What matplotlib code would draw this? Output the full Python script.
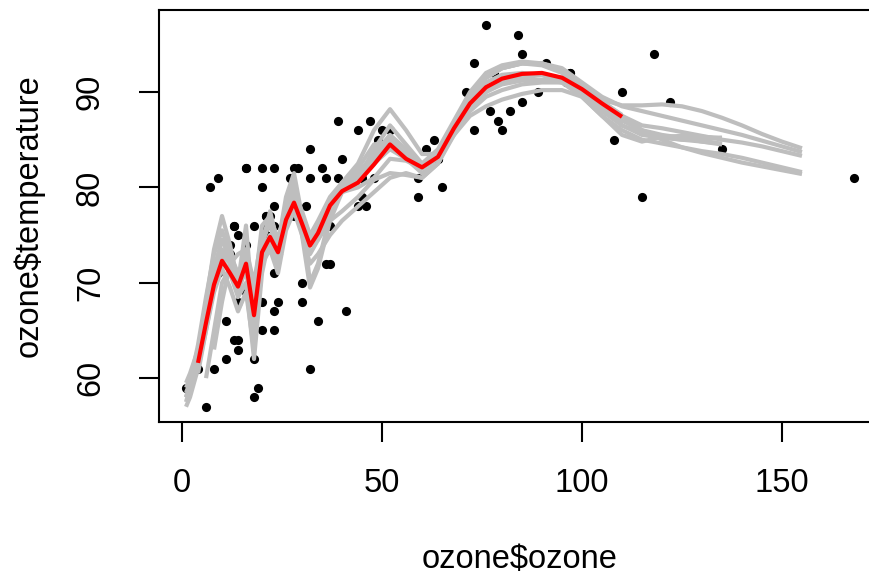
import numpy as np
import matplotlib
matplotlib.use("Agg")
from matplotlib import pyplot as plt

nan = np.nan

# observed data (ozone vs temperature)
ozone = [41, 36, 12, 18, 23, 19, 8, 16, 11, 14, 18, 14, 34, 6, 30, 11, 1, 11, 4, 32,
         23, 45, 115, 37, 29, 71, 39, 23, 21, 37, 20, 12, 13, 135, 49, 32, 64, 40, 77, 97,
         97, 85, 10, 27, 7, 48, 35, 61, 79, 63, 16, 80, 108, 20, 52, 82, 50, 64, 59, 39,
         9, 16, 122, 89, 110, 44, 28, 65, 22, 59, 23, 31, 44, 21, 9, 45, 168, 73, 76, 118,
         84, 85, 96, 78, 73, 91, 47, 32, 20, 23, 21, 24, 44, 21, 28, 9, 13, 46, 18, 13,
         24, 16, 13, 23, 36, 7, 14, 30, 14, 18, 20]
temperature = [67, 72, 74, 62, 65, 59, 61, 69, 66, 68, 58, 64, 66, 57, 68, 62, 59, 73, 61, 61,
               67, 81, 79, 76, 82, 90, 87, 82, 77, 72, 65, 73, 76, 84, 85, 81, 83, 83, 88, 92,
               92, 89, 73, 81, 80, 81, 82, 84, 87, 85, 74, 86, 85, 82, 86, 88, 86, 83, 81, 81,
               81, 82, 89, 90, 90, 86, 82, 80, 77, 79, 76, 78, 78, 77, 72, 79, 81, 86, 97, 94,
               96, 94, 91, 92, 93, 93, 87, 84, 80, 78, 75, 73, 81, 76, 77, 71, 71, 78, 67, 76,
               68, 82, 64, 71, 81, 69, 63, 70, 75, 76, 68]

# grid of ozone values where the smooth curves were read
xgrid = [1, 2, 4, 6, 8, 10, 12, 14, 16, 18, 20, 22, 24, 26, 28, 30, 32, 34, 37, 40,
         44, 48, 52, 56, 60, 64, 68, 72, 76, 80, 85, 90, 95, 100, 105, 110, 115, 120, 125, 130,
         135, 140, 145, 150, 155]

# bootstrap loess curves (grey)
g1 = [57.5, 59, 63, 68, 73.5, 77, 74, 70, 73, 64, 74, 76.5, 74, 79, 81.5, 77, 70, 72, 77, 80,
      81, 83, 84.5, 83, 81.5, 82.5, 86, 89.5, 91.5, 92.5, 93, 93, 92.2, 90.8, 89, 87.5, 86.5, 86.2, 85.8, 85.4,
      85, 84.7, 84.3, 83.8, 83.3]
g2 = [58, 59, 62, 66, 70, 73, 72, 69, 71.5, 65, 72, 74, 72.5, 76, 78, 76, 74, 75.5, 78.5, 80.5,
      82.5, 86, 88.2, 86, 83.5, 83.5, 86.5, 89.5, 91.5, 92.5, 93, 92.8, 92, 90.5, 88.5, 86.5, 85.5, 85.2, 85, 85,
      85.2, nan, nan, nan, nan]
g3 = [nan, nan, 60.5, 65, 69.5, 72, 71.5, 70.5, 72, 68, 73.5, 75, 74, 76.5, 78, 77, 75, 74.5, 76.5, 77.5,
      79, 80.8, 81.5, 81.3, 81, 82.5, 85.5, 88, 89.5, 90.2, 90.8, 91, 91, 90.2, 89, 87.5, 86, 85, 84.2, 83.6,
      83.1, 82.6, 82.2, 81.8, 81.4]
g4 = [59.5, 60.5, 63, 66.5, 70, 72.5, 71, 68.5, 70, 62, 71, 75, 71.5, 78, 80.5, 75, 69.5, 71.5, 76.5, 79.5,
      80.5, 83.5, 85.5, 84, 82, 83, 86.5, 89, 90.5, 91.3, 91.8, 91.8, 91.2, 90.2, 89.2, 88.6, 88.6, 88.7, 88.5, 88,
      87.3, 86.5, 85.6, 84.8, 84.1]
g5 = [nan, nan, nan, 60, 65, 70, 71.5, 70, 73.5, 69, 76, 77, 74.5, 78, 79.5, 77.5, 75, 76, 78.5, 80,
      80.8, 84, 86.5, 84.5, 82.5, 83, 86, 88.5, 90, 90.8, 91.2, 91.3, 91, 90, 88, 86.5, 85.7, 85.3, 85, 84.8,
      84.6, nan, nan, nan, nan]
g6 = [57, 58, 61, 65, 69, 71.5, 69.5, 67, 69, 63, 72, 73.5, 71, 75.5, 77.5, 75, 72, 73, 75, 76.5,
      78, 79.5, 81, 81.5, 81, 82.5, 86.5, 89.5, 91, 91.8, 92, 91.8, 91, 89.5, 87.5, 86, 85, 84.6, 84.2, 83.8,
      83.5, 83.1, 82.6, 82.1, 81.6]
g7 = [58.5, 59.5, 62.5, 67, 71.5, 74.5, 72.5, 70, 76, 66, 74, 77.5, 74, 77.5, 79, 77, 75, 76.5, 79, 80.5,
      81, 82.5, 84, 83, 82, 83, 85.5, 87.5, 88.5, 89.2, 89.8, 90.2, 90.2, 89.5, 87.5, 85.5, 84.8, 85.3, 85.4, 85.3,
      85.2, nan, nan, nan, nan]
g8 = [nan, nan, nan, nan, 63, 68, 72, 73, 73.5, 70, 75, 76, 73.5, 76.5, 78.5, 76.5, 73, 74.5, 78, 80,
      82, 84.5, 84.8, 83, 82.2, 83.5, 86.5, 89.5, 91.5, 92.5, 93, 93, 92.5, 91, 89.5, 88.5, 88, 87.5, 87, 86.5,
      86, 85.5, 84.9, 84.3, 83.7]
g9 = [58, 59.5, 63.5, 68.5, 73, 75.5, 73, 71, 72.5, 67, 73, 74.5, 73.5, 77, 79, 77, 74, 75, 77.5, 79.5,
      81.5, 83.5, 85, 83.5, 82.5, 84, 87, 90, 92, 92.8, 93.2, 93, 92.3, 90.7, 88.8, 87, 86, 85.5, 85.2, 84.8,
      84.5, nan, nan, nan, nan]
g10 = [59, 60, 62, 65.5, 70, 73.5, 72.5, 70, 71, 68, 73, 74, 73, 76, 78, 76.5, 74.5, 75.5, 78, 79.5,
       80, 81, 83, 82.8, 82, 83.5, 86, 88.5, 90, 91, 91.5, 91.8, 91.5, 90.5, 89, 87.6, nan, nan, nan, nan,
       nan, nan, nan, nan, nan]

# bagged (mean) curve
red = [nan, nan, 61.6, 65.8, 69.8, 72.3, 71.0, 69.6, 72.0, 66.6, 73.2, 74.8, 73.2, 76.6, 78.4, 76.2, 73.9, 75.2, 78.1, 79.6,
       80.5, 82.4, 84.5, 83.0, 82.1, 83.2, 86.2, 88.8, 90.5, 91.4, 91.9, 92.0, 91.5, 90.3, 88.8, 87.4, nan, nan, nan, nan,
       nan, nan, nan, nan, nan]

plt.rcParams['font.family'] = ['Liberation Sans', 'DejaVu Sans']
plt.rcParams['font.size'] = 23.5

fig = plt.figure(figsize=(8.7, 5.74), dpi=100)
ax = fig.add_axes([0.1831, 0.2648, 0.8292, 0.7178])

ax.plot(ozone, temperature, 'o', color='black', markersize=6.6, markeredgewidth=0)
for g in [g1, g2, g3, g4, g5, g6, g7, g8, g9, g10]:
    ax.plot(xgrid, g, color='#BEBEBE', lw=3, solid_capstyle='butt', solid_joinstyle='round')
ax.plot(xgrid, red, color='#FF0000', lw=3, solid_capstyle='butt', solid_joinstyle='round')

ax.set_xlim(-5.68, 174.68)
ax.set_ylim(55.4, 98.6)
ax.set_xticks([0, 50, 100, 150])
ax.set_yticks([60, 70, 80, 90])
for s in ax.spines.values():
    s.set_linewidth(1.5)
    s.set_clip_on(False)
ax.tick_params(direction='out', length=14.4, width=1.5)
ax.tick_params(axis='x', pad=19)
ax.tick_params(axis='y', pad=24)
for lab in ax.get_yticklabels():
    lab.set_rotation(90)
    lab.set_va('center')

ax.set_xlabel('ozone$ozone', labelpad=32)
ax.set_ylabel('ozone$temperature', labelpad=22)

fig.savefig('out.png', dpi=100)
